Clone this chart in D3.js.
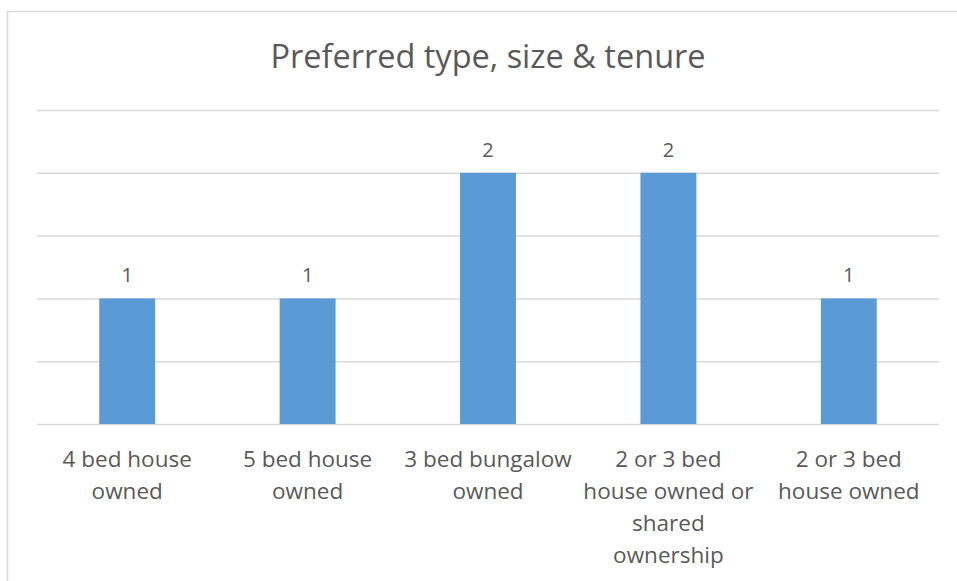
<!DOCTYPE html>
<html>
<head>
<meta charset="utf-8">
<script src="https://cdn.jsdelivr.net/npm/d3@7"></script>
<style>
  html, body { margin: 0; padding: 0; background: #ffffff; }
  svg { display: block; }
  text { font-family: "Open Sans", "Noto Sans", sans-serif; fill: #595959; }
</style>
</head>
<body>
<svg id="chart" width="957" height="581"></svg>
<script>
// ---- data ----
const title = "Preferred type, size & tenure";
const categories = [
  "4 bed house owned",
  "5 bed house owned",
  "3 bed bungalow owned",
  "2 or 3 bed house owned or shared ownership",
  "2 or 3 bed house owned"
];
const categoryLines = [
  ["4 bed house", "owned"],
  ["5 bed house", "owned"],
  ["3 bed bungalow", "owned"],
  ["2 or 3 bed", "house owned or", "shared", "ownership"],
  ["2 or 3 bed", "house owned"]
];
const values = [1, 1, 2, 2, 1];
const yTicks = [0, 0.5, 1, 1.5, 2, 2.5];

// ---- layout ----
const W = 957, H = 581;
const plot = { left: 37, right: 939, top: 110, bottom: 424 };

const svg = d3.select("#chart");

// chart border (extends past the viewport on right/bottom)
svg.append("rect")
  .attr("x", 7.5).attr("y", 11.5)
  .attr("width", 1000).attr("height", 1000)
  .attr("fill", "none")
  .attr("stroke", "#d9d9d9")
  .attr("stroke-width", 1.5);

const x = d3.scaleBand()
  .domain(categories)
  .range([plot.left, plot.right])
  .paddingInner(0.69)
  .paddingOuter(0.345);

const y = d3.scaleLinear()
  .domain([0, 2.5])
  .range([plot.bottom, plot.top]);

// gridlines
const grid = svg.append("g")
  .attr("transform", `translate(${plot.left},0)`)
  .call(d3.axisLeft(y).tickValues(yTicks).tickSize(-(plot.right - plot.left)).tickFormat(""));
grid.select(".domain").remove();
grid.selectAll("line").attr("stroke", "#d9d9d9").attr("stroke-width", 1.5);

// bars
svg.append("g").selectAll("rect")
  .data(values)
  .join("rect")
  .attr("x", (d, i) => x(categories[i]))
  .attr("y", d => y(d))
  .attr("width", x.bandwidth())
  .attr("height", d => y(0) - y(d))
  .attr("fill", "#5b9bd5");

// value labels
svg.append("g").selectAll("text")
  .data(values)
  .join("text")
  .attr("x", (d, i) => x(categories[i]) + x.bandwidth() / 2)
  .attr("y", d => y(d) - 16)
  .attr("text-anchor", "middle")
  .style("font-size", "20px")
  .text(d => d);

// x axis labels
const xAxis = svg.append("g")
  .attr("transform", `translate(0,${plot.bottom})`)
  .call(d3.axisBottom(x).tickSize(0).tickFormat(""));
xAxis.select(".domain").remove();
xAxis.selectAll(".tick").each(function (d, i) {
  const t = d3.select(this).append("text")
    .attr("text-anchor", "middle")
    .style("font-size", "22.5px");
  categoryLines[i].forEach((line, j) => {
    t.append("tspan").attr("x", 0).attr("y", 43 + j * 32).text(line);
  });
});

// title
svg.append("text")
  .attr("x", 488)
  .attr("y", 68)
  .attr("text-anchor", "middle")
  .style("font-size", "32.5px")
  .text(title);
</script>
</body>
</html>
